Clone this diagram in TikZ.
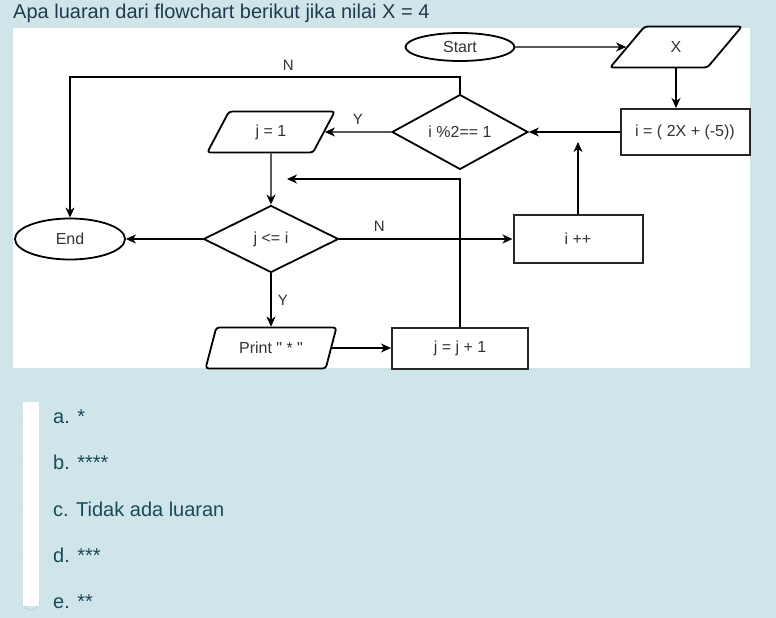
\documentclass[tikz,border=0pt]{standalone}
\usepackage{fontspec}
\setmainfont{Liberation Sans}[Ligatures=TeXOff]
\usetikzlibrary{shapes.geometric, arrows.meta, positioning}
\definecolor{pagebg}{HTML}{CFE5EA}
\definecolor{titletext}{HTML}{1F3B4D}
\definecolor{opttext}{HTML}{1A4A57}

\begin{document}
\begin{tikzpicture}[
    x=1pt, y=-1pt,
    node distance=100pt,
    on grid,
    every node/.style={font=\fontsize{16}{18}\selectfont, text=black!80},
    term/.style={ellipse, draw=black, line width=1.8pt, inner sep=0pt},
    box/.style={rectangle, draw=black!85, line width=2pt, inner sep=0pt},
    io/.style={trapezium, trapezium left angle=62, trapezium right angle=118,
        trapezium stretches=true, draw=black, line width=1.8pt,
        rounded corners=3pt, inner sep=0pt, minimum height=41pt},
    decision/.style={diamond, draw=black, line width=1.8pt, inner sep=0pt},
    flow/.style={line width=1.2pt, -{Stealth[length=10pt, width=9pt, inset=3pt]}},
    lbl/.style={font=\fontsize{15}{17}\selectfont},
    opt/.style={anchor=base west, inner sep=0pt, text=opttext,
        font=\fontsize{20}{22}\selectfont}
]

   % Page and question
   \fill[pagebg] (0,0) rectangle (776,618);
   \useasboundingbox (0,0) rectangle (776,618);
   \fill[white] (13,28) rectangle (750,368);
   \node[opt, text=titletext] (question) at (13,19)
       {Apa luaran dari flowchart berikut jika nilai X = 4};

   % Flowchart blocks
   \node[term, minimum width=109pt, minimum height=28pt] (start) at (460,47) {Start};
   \node[io, minimum width=132pt] (inX) [right=216pt of start] {X};
   \node[decision, minimum width=136pt, minimum height=55pt] (cond1) [below=85pt of start] {i \%2== 1};
   \node[box, minimum width=129pt, minimum height=46pt] (calc) [right=225pt of cond1] {i = ( 2X + (-5))};
   \node[io, minimum width=128pt] (jone) [left=189pt of cond1] {j = 1};
   \node[decision, minimum width=135pt, minimum height=67pt] (cond2) [below=107pt of jone] {j <= i};
   \node[term, minimum width=110pt, minimum height=41pt] (finish) [left=201pt of cond2] {End};
   \node[box, minimum width=129pt, minimum height=48pt] (inc) [right=307pt of cond2] {i ++};
   \node[io, minimum width=131pt] (prnt) [below=109pt of cond2] {Print " * "};
   \node[box, minimum width=136pt, minimum height=41pt] (jinc) [right=189pt of prnt] {j = j + 1};

   \coordinate (nturn) at (460,77);
   \coordinate (backtip) at (287,179);
   \coordinate (uptip) at (578,142);

   % Connectors
   \draw[flow] (start) -- (inX);
   \draw[flow] (inX.south) -- (inX.south |- calc.north);
   \draw[flow] (calc) -- (cond1);
   \draw[flow] (cond1) -- (jone) node[midway, above=4pt, lbl] {Y};
   \draw[flow] (cond1.north) -- (nturn) -| (finish.north) node[pos=0.22, above=3pt, lbl] {N};
   \draw[flow] (jone) -- (cond2);
   \draw[flow] (cond2) -- (finish);
   \draw[flow] (cond2) -- (inc) node[pos=0.23, above=4pt, lbl] {N};
   \draw[flow] (cond2) -- (prnt) node[midway, right=3pt, lbl] {Y};
   \draw[flow] (prnt) -- (jinc);
   \draw[flow] (jinc.north) |- (backtip);
   \draw[flow] (inc.north) -- (uptip);

   % Answer options
   \draw[black!20, line width=1pt] (31,417) circle[radius=8pt];
   \draw[black!20, line width=1pt] (31,463) circle[radius=8pt];
   \draw[black!20, line width=1pt] (31,510) circle[radius=8pt];
   \draw[black!20, line width=1pt] (31,556) circle[radius=8pt];
   \draw[black!20, line width=1pt] (31,602) circle[radius=8pt];
   \fill[white] (23,402) rectangle (39,606);
   \node[opt] (opta) at (53,423) {a. *};
   \node[opt] (optb) at (53,469.5) {b. ****};
   \node[opt] (optc) at (53,516) {c. Tidak ada luaran};
   \node[opt] (optd) at (53,562.5) {d. ***};
   \node[opt] (opte) at (53,608) {e. **};
\end{tikzpicture}
\end{document}
